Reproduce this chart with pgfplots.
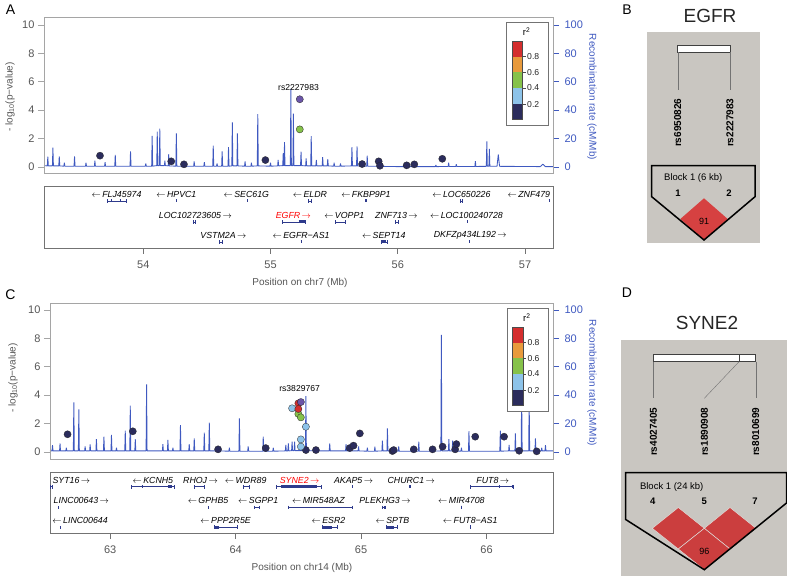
\documentclass[border=0pt]{standalone}
\usepackage{pgfplots}
\pgfplotsset{compat=1.18}
\usepackage{fontspec}
\setmainfont{Liberation Sans}

\definecolor{recblue}{HTML}{3F59C0}
\definecolor{axgray}{HTML}{A5A5A5}
\definecolor{ticktext}{HTML}{555555}
\definecolor{ldnavy}{HTML}{2B2C5C}
\definecolor{ldlblue}{HTML}{8DC3E9}
\definecolor{ldgreen}{HTML}{86C24A}
\definecolor{ldorange}{HTML}{E89A3C}
\definecolor{ldred}{HTML}{D42E2E}
\definecolor{ldpurple}{HTML}{6B55A8}
\definecolor{hvgray}{HTML}{C9C6C1}
\definecolor{hvred}{HTML}{D64141}
\definecolor{genenavy}{HTML}{2E3A8C}

\newcommand{\fs}[1]{\fontsize{#1}{#1}\selectfont}
\newcommand{\genefont}{\fs{8.8}\itshape}

% gene: start, end, bar y
\newcommand{\gene}[3]{\addplot[genenavy, line width=0.6pt, mark=|, mark size=1.8pt,
  mark options={line width=0.5pt}] coordinates {(#1,#3) (#2,#3)};}
\newcommand{\exon}[3]{\addplot[genenavy, line width=3pt] coordinates {(#1,#3) (#2,#3)};}
\newcommand{\glabel}[4][black]{\node[font=\genefont, text=#1, inner sep=0pt] at (axis cs:#2,#3) {#4};}
\newcommand{\la}{$\leftarrow$\,}
\newcommand{\ra}{\,$\rightarrow$}

% r^2 colour key, in relative axis coordinates
\newcommand{\rtick}[2]{\draw[black!70, line width=0.4pt] (rel axis cs:0.940,#1) -- (rel axis cs:0.947,#1)
      node[right, inner sep=1pt, font=\fs{8.6}, text=black!85] {#2};}
\newcommand{\rkey}{%
  \draw[black!55, fill=white, line width=0.6pt] (rel axis cs:0.909,0.306) rectangle (rel axis cs:0.991,0.963);
  \fill[ldred] (rel axis cs:0.919,0.848) rectangle (rel axis cs:0.940,0.746);
  \fill[ldorange] (rel axis cs:0.919,0.746) rectangle (rel axis cs:0.940,0.647);
  \fill[ldgreen] (rel axis cs:0.919,0.647) rectangle (rel axis cs:0.940,0.545);
  \fill[ldlblue] (rel axis cs:0.919,0.545) rectangle (rel axis cs:0.940,0.442);
  \fill[ldnavy] (rel axis cs:0.919,0.442) rectangle (rel axis cs:0.940,0.344);
  \draw[black!70, line width=0.4pt] (rel axis cs:0.919,0.848) rectangle (rel axis cs:0.940,0.344);
  \rtick{0.746}{0.8}
  \rtick{0.647}{0.6}
  \rtick{0.545}{0.4}
  \rtick{0.442}{0.2}
  \node[font=\fs{9.5}] at (rel axis cs:0.948,0.906) {r\textsuperscript{2}};
}

\pgfplotsset{
  lz/.style={scale only axis, anchor=south west, clip=false, tick align=outside,
    major tick length=6pt, /pgf/number format/assume math mode=true},
  rec/.style={lz, axis x line=none, axis y line*=right,
    axis line style={recblue, line width=0.8pt}, ytick={0,20,...,100},
    ytick style={recblue, line width=0.8pt},
    yticklabel style={text=recblue, font=\fs{11}, xshift=2pt}},
  pv/.style={lz, axis line style={axgray, line width=0.8pt}, xtick=\empty,
    ytick={0,2,...,10}, ytick pos=left, ytick style={axgray, line width=0.8pt},
    yticklabel style={text=ticktext, font=\fs{11}}},
  gt/.style={lz, axis line style={black!55, line width=0.8pt}, ytick=\empty,
    xtick pos=bottom, xtick style={black!55, line width=0.8pt},
    xticklabel style={text=ticktext, font=\fs{11}, yshift=-3pt}, ymin=0, ymax=62},
  snp/.style={only marks, mark=*, mark size=3.6pt,
    mark options={fill=#1, draw=black!85, line width=0.3pt}},
}

\begin{document}
\begin{tikzpicture}[x=1pt,y=1pt]
\path[use as bounding box] (0,0) rectangle (787,576);

%================ A : recombination rate (cM/Mb) ================
\begin{axis}[rec, at={(44pt,403pt)}, width=509pt, height=156pt,
  xmin=53.22, xmax=57.22, ymin=-4.2, ymax=105.6]
\addplot[recblue, line width=0.85pt, line join=bevel] coordinates {
(53.22,1.0)
(53.246,0.8) (53.25,7.3) (53.254,0.8)
(53.286,0.8) (53.29,13.6) (53.294,0.8)
(53.336,0.8) (53.34,7.5) (53.344,0.8)
(53.376,0.6) (53.38,3.0) (53.384,0.6)
(53.456,0.6) (53.46,7.5) (53.464,0.6)
(53.546,0.6) (53.55,3.0) (53.554,0.6)
(53.616,0.6) (53.62,4.4) (53.624,0.6)
(53.696,0.6) (53.70,3.5) (53.704,0.6)
(53.776,0.6) (53.78,8.6) (53.784,0.6)
(53.896,0.6) (53.90,11.0) (53.904,0.6)
(54.016,0.6) (54.02,2.5) (54.024,0.6)
(54.066,0.6) (54.07,22.0) (54.074,0.6)
(54.106,1.0) (54.11,25.0) (54.114,1.0)
(54.126,1.0) (54.13,27.0) (54.134,1.0)
(54.166,1.0) (54.17,4.4) (54.174,1.0)
(54.196,0.8) (54.20,9.0) (54.204,0.8)
(54.256,0.6) (54.26,23.7) (54.264,0.6)
(54.326,0.6) (54.33,3.0) (54.334,0.6)
(54.396,0.6) (54.40,4.0) (54.404,0.6)
(54.476,0.6) (54.48,3.5) (54.484,0.6)
(54.546,0.6) (54.55,15.0) (54.554,0.6)
(54.576,0.6) (54.58,2.5) (54.584,0.6)
(54.616,0.6) (54.62,11.0) (54.624,0.6)
(54.666,0.6) (54.67,14.0) (54.674,0.6)
(54.696,0.8) (54.70,31.5) (54.704,0.8)
(54.736,0.8) (54.74,23.6) (54.744,0.8)
(54.796,0.6) (54.80,4.0) (54.804,0.6)
(54.846,0.6) (54.85,3.0) (54.854,0.6)
(54.896,0.8) (54.90,37.3) (54.904,0.8)
(54.996,0.6) (55.00,3.0) (55.004,0.6)
(55.056,0.8) (55.06,5.0) (55.064,0.8)
(55.096,1.0) (55.10,9.8) (55.104,1.0)
(55.107,1.0) (55.11,17.6) (55.114,1.0)
(55.156,1.0) (55.16,55.0) (55.164,1.0)
(55.176,1.0) (55.18,37.6) (55.184,1.0)
(55.236,1.0) (55.24,10.8) (55.244,1.0)
(55.276,0.8) (55.28,6.0) (55.284,0.8)
(55.316,0.8) (55.32,21.8) (55.324,0.8)
(55.356,0.8) (55.36,5.0) (55.364,0.8)
(55.406,0.8) (55.41,7.0) (55.414,0.8)
(55.446,0.8) (55.45,5.5) (55.454,0.8)
(55.496,0.6) (55.50,3.0) (55.504,0.6)
(55.546,0.6) (55.55,2.5) (55.554,0.6)
(55.636,0.8) (55.64,14.0) (55.644,0.8)
(55.676,0.8) (55.68,14.6) (55.684,0.8)
(55.756,0.6) (55.76,8.0) (55.764,0.6)
(56.00,0.3)
(56.296,0.3) (56.30,1.5) (56.304,0.3)
(56.396,0.4) (56.40,3.0) (56.404,0.4)
(56.456,0.4) (56.46,2.0) (56.464,0.4)
(56.606,0.4) (56.61,4.2) (56.614,0.4)
(56.696,0.5) (56.70,18.0) (56.704,0.5)
(56.716,0.5) (56.72,12.7) (56.724,0.5)
(56.78,0.5) (56.79,8.8) (56.80,0.5)
(57.12,0.3) (57.14,2.0) (57.16,0.3)
(57.22,0.3)};
\end{axis}

%================ A : association ================
\begin{axis}[pv, at={(44pt,403pt)}, width=509pt, height=156pt,
  xmin=53.22, xmax=57.22, ymin=-0.42, ymax=10.56]
\addplot[snp=ldnavy] coordinates {
 (53.66,0.8) (54.22,0.4) (54.32,0.19) (54.96,0.49) (55.72,0.21) (55.85,0.4)
 (55.86,0.09) (56.07,0.12) (56.13,0.19) (56.35,0.58)};
\addplot[snp=ldgreen] coordinates {(55.23,2.65)};
\addplot[snp=ldpurple] coordinates {(55.23,4.77)};
\node[font=\fs{8.6}] at (axis cs:55.22,5.62) {rs2227983};
\rkey
\end{axis}

%================ A : genes ================
\begin{axis}[gt, at={(44pt,328pt)}, width=509pt, height=62pt,
  xmin=53.22, xmax=57.22, xtick={54,55,56,57}]
\gene{53.72}{53.87}{47} \exon{53.745}{53.752}{47} \exon{53.815}{53.822}{47}
\glabel{53.79}{53.7}{\la FLJ45974}
\exon{54.258}{54.263}{47} \glabel{54.26}{53.7}{\la HPVC1}
\exon{54.816}{54.824}{47} \glabel{54.81}{53.7}{\la SEC61G}
\gene{55.30}{55.32}{47} \glabel{55.31}{53.7}{\la ELDR}
\exon{55.745}{55.757}{47} \glabel{55.75}{53.7}{\la FKBP9P1}
\gene{56.49}{56.51}{47} \glabel{56.50}{53.7}{\la LOC650226}
\exon{57.186}{57.196}{47} \glabel{57.03}{53.7}{\la ZNF479}
\gene{54.39}{54.41}{26} \glabel{54.41}{33}{LOC102723605\ra}
\gene{55.09}{55.27}{26} \exon{55.22}{55.27}{26} \glabel[red]{55.18}{33}{EGFR\ra}
\gene{55.51}{55.59}{26} \glabel{55.58}{33}{\la VOPP1}
\gene{55.98}{56.00}{26} \glabel{55.99}{33}{ZNF713\ra}
\exon{56.548}{56.552}{26} \glabel{56.54}{33}{\la LOC100240728}
\gene{54.60}{54.62}{6} \glabel{54.63}{13}{VSTM2A\ra}
\exon{55.237}{55.245}{6} \glabel{55.24}{13}{\la EGFR−AS1}
\gene{55.87}{55.92}{6} \exon{55.875}{55.91}{6} \glabel{55.89}{13}{\la SEPT14}
\exon{56.558}{56.562}{6} \glabel{56.57}{13}{DKFZp434L192\ra}
\end{axis}

%================ C : recombination rate (cM/Mb) ================
\begin{axis}[rec, at={(50pt,117pt)}, width=503pt, height=156pt,
  xmin=62.52, xmax=66.53, ymin=-4.9, ymax=104.9]
\addplot[recblue, line width=0.85pt, line join=bevel] coordinates {
(62.52,1.0)
(62.536,0.8) (62.54,4.9) (62.544,0.8)
(62.596,0.8) (62.60,6.0) (62.604,0.8)
(62.646,0.8) (62.65,3.0) (62.654,0.8)
(62.706,0.8) (62.71,35.0) (62.714,0.8)
(62.746,0.8) (62.75,30.0) (62.754,0.8)
(62.796,0.8) (62.80,4.0) (62.804,0.8)
(62.836,0.8) (62.84,5.4) (62.844,0.8)
(62.886,0.8) (62.89,9.0) (62.894,0.8)
(62.946,0.8) (62.95,10.8) (62.954,0.8)
(63.006,0.8) (63.01,12.0) (63.014,0.8)
(63.046,0.8) (63.05,3.0) (63.054,0.8)
(63.116,0.8) (63.12,15.0) (63.124,0.8)
(63.156,0.8) (63.16,32.6) (63.164,0.8)
(63.196,0.8) (63.20,9.0) (63.204,0.8)
(63.286,0.8) (63.29,47.7) (63.294,0.8)
(63.416,0.8) (63.42,5.6) (63.424,0.8)
(63.456,0.8) (63.46,8.5) (63.464,0.8)
(63.496,0.8) (63.50,3.0) (63.504,0.8)
(63.556,0.8) (63.56,19.0) (63.564,0.8)
(63.626,0.8) (63.63,5.6) (63.634,0.8)
(63.666,0.8) (63.67,9.6) (63.674,0.8)
(63.746,0.8) (63.75,13.6) (63.754,0.8)
(63.786,0.8) (63.79,20.7) (63.794,0.8)
(63.856,0.8) (63.86,4.0) (63.864,0.8)
(63.946,0.6) (63.95,3.0) (63.954,0.6)
(64.026,0.6) (64.03,23.7) (64.034,0.6)
(64.096,0.6) (64.10,4.0) (64.104,0.6)
(64.216,0.6) (64.22,10.8) (64.224,0.6)
(64.296,0.6) (64.30,3.0) (64.304,0.6)
(64.396,0.8) (64.40,5.0) (64.404,0.8)
(64.416,0.8) (64.42,6.0) (64.424,0.8)
(64.446,1.0) (64.45,7.3) (64.454,1.0)
(64.466,1.0) (64.47,7.3) (64.474,1.0)
(64.556,1.0) (64.56,39.4) (64.564,1.0)
(64.646,0.8) (64.65,3.0) (64.654,0.8)
(64.746,0.8) (64.75,6.0) (64.754,0.8)
(64.876,0.8) (64.88,5.6) (64.884,0.8)
(64.916,0.8) (64.92,6.6) (64.924,0.8)
(64.976,0.8) (64.98,4.0) (64.984,0.8)
(65.046,0.6) (65.05,3.0) (65.054,0.6)
(65.106,0.6) (65.11,3.8) (65.114,0.6)
(65.166,0.8) (65.17,8.0) (65.174,0.8)
(65.206,0.8) (65.21,16.7) (65.214,0.8)
(65.296,0.6) (65.30,4.0) (65.304,0.6)
(65.396,0.6) (65.40,3.0) (65.404,0.6)
(65.456,0.6) (65.46,7.3) (65.464,0.6)
(65.546,0.6) (65.55,3.0) (65.554,0.6)
(65.636,0.8) (65.64,82.4) (65.644,0.8)
(65.696,0.8) (65.70,9.0) (65.704,0.8)
(65.726,0.8) (65.73,8.0) (65.734,0.8)
(65.796,0.6) (65.80,3.0) (65.804,0.6)
(65.856,0.6) (65.86,14.8) (65.864,0.6)
(66.106,0.6) (66.11,15.0) (66.114,0.6)
(66.176,0.8) (66.18,5.0) (66.184,0.8)
(66.226,0.8) (66.23,13.1) (66.234,0.8)
(66.276,0.8) (66.28,41.3) (66.284,0.8)
(66.336,0.8) (66.34,36.6) (66.344,0.8)
(66.386,0.8) (66.39,9.6) (66.394,0.8)
(66.436,0.8) (66.44,3.0) (66.444,0.8)
(66.466,0.8) (66.47,4.9) (66.474,0.8)
(66.53,0.8)};
\end{axis}

%================ C : association ================
\begin{axis}[pv, at={(50pt,117pt)}, width=503pt, height=156pt,
  xmin=62.52, xmax=66.53, ymin=-0.49, ymax=10.49]
\addplot[snp=ldnavy] coordinates {
 (62.66,1.25) (63.18,1.46) (63.86,0.19) (64.24,0.28) (64.56,0.14) (64.64,0.14)
 (64.91,0.28) (64.94,0.45) (64.99,1.31) (65.25,0.07) (65.26,0.14) (65.42,0.19)
 (65.57,0.19) (65.65,0.38) (65.75,0.19) (65.76,0.56) (65.91,1.08) (66.14,1.08)
 (66.26,0.09) (66.40,0.05)};
\addplot[snp=ldlblue] coordinates {(64.45,3.08) (64.56,1.78) (64.52,0.89) (64.52,0.38)};
\addplot[snp=ldgreen] coordinates {(64.50,2.68) (64.52,2.44)};
\addplot[snp=ldred] coordinates {(64.50,3.43) (64.50,3.03)};
\addplot[snp=ldpurple] coordinates {(64.52,3.52)};
\node[font=\fs{8.6}] at (axis cs:64.51,4.49) {rs3829767};
\rkey
\end{axis}

%================ C : genes ================
\begin{axis}[gt, at={(50pt,43pt)}, width=503pt, height=61pt,
  xmin=62.52, xmax=66.53, xtick={63,64,65,66}]
\gene{62.525}{62.54}{47} \glabel{62.69}{53.7}{SYT16\ra}
\gene{63.17}{63.51}{47} \exon{63.25}{63.26}{47} \exon{63.46}{63.49}{47}
\glabel{63.34}{53.7}{\la KCNH5}
\gene{63.67}{63.75}{47} \glabel{63.72}{53.7}{RHOJ\ra}
\gene{64.06}{64.11}{47} \glabel{64.08}{53.7}{\la WDR89}
\gene{64.32}{64.68}{47} \exon{64.36}{64.65}{47} \glabel[red]{64.51}{53.7}{SYNE2\ra}
\exon{64.928}{64.934}{47} \glabel{64.94}{53.7}{AKAP5\ra}
\exon{65.385}{65.395}{47} \glabel{65.40}{53.7}{CHURC1\ra}
\gene{65.87}{66.21}{47} \exon{66.10}{66.11}{47} \exon{66.20}{66.21}{47}
\glabel{66.05}{53.7}{FUT8\ra}
\exon{62.587}{62.593}{26} \glabel{62.77}{33}{LINC00643\ra}
\exon{63.778}{63.782}{26} \glabel{63.78}{33}{\la GPHB5}
\gene{64.15}{64.19}{26} \glabel{64.18}{33}{\la SGPP1}
\gene{64.42}{64.93}{26} \glabel{64.66}{33}{\la MIR548AZ}
\gene{65.17}{65.19}{26} \exon{65.18}{65.19}{26} \glabel{65.19}{33}{PLEKHG3\ra}
\gene{65.798}{65.802}{26} \glabel{65.80}{33}{\la MIR4708}
\exon{62.598}{62.602}{6} \glabel{62.76}{12.5}{\la LINC00644}
\gene{63.83}{64.01}{6} \exon{63.83}{63.87}{6} \glabel{63.92}{12.5}{\la PPP2R5E}
\gene{64.69}{64.81}{6} \exon{64.69}{64.77}{6} \glabel{64.74}{12.5}{\la ESR2}
\gene{65.20}{65.29}{6} \exon{65.21}{65.26}{6} \glabel{65.25}{12.5}{\la SPTB}
\gene{65.868}{65.872}{6} \glabel{65.87}{12.5}{\la FUT8−AS1}
\end{axis}

%================ B and D : LD blocks ================
\begin{axis}[scale only axis, anchor=south west, at={(585pt,0pt)}, width=202pt,
  height=576pt, xmin=585, xmax=787, ymin=0, ymax=576, y dir=reverse,
  hide axis, clip=false]
% B
\addplot[fill=hvgray, draw=none] coordinates {(647,32) (760,32) (760,243) (647,243)} -- cycle;
\addplot[fill=white, draw=black!75, line width=0.6pt] coordinates {(677.7,45.7) (730,45.7) (730,52.3) (677.7,52.3)} -- cycle;
\addplot[black!55, line width=0.4pt] coordinates {(677.7,52.3) (677.7,90)};
\addplot[black!55, line width=0.4pt] coordinates {(730,52.3) (730,90)};
\addplot[fill=hvred, draw=none] coordinates {(704,198.3) (727.7,219) (704,239.7) (680.3,219)} -- cycle;
\addplot[black, line width=1.5pt] coordinates {(651.7,165.7) (755,165.7) (755,196.7) (704,240) (651.7,196.7)} -- cycle;
\node[rotate=90, anchor=east, font=\fs{10}\bfseries] at (axis cs:677.7,95) {rs6950826};
\node[rotate=90, anchor=east, font=\fs{10}\bfseries] at (axis cs:730,95) {rs2227983};
\node[font=\fs{9.5}] at (axis cs:693.2,178.3) {Block 1 (6 kb)};
\node[font=\fs{9.5}\bfseries] at (axis cs:678,193) {1};
\node[font=\fs{9.5}\bfseries] at (axis cs:729,193) {2};
\node[font=\fs{9}] at (axis cs:704,221) {91};
\node[font=\fs{19}, text=black!85] at (axis cs:710,16) {EGFR};
% D
\addplot[fill=hvgray, draw=none] coordinates {(621,340) (787,340) (787,576) (621,576)} -- cycle;
\addplot[fill=white, draw=black!75, line width=0.6pt] coordinates {(653.3,354.3) (755.7,354.3) (755.7,361.7) (653.3,361.7)} -- cycle;
\addplot[black!75, line width=0.6pt] coordinates {(739,354.3) (739,361.7)};
\addplot[black!55, line width=0.4pt] coordinates {(653.3,361.7) (653.3,398.3)};
\addplot[black!55, line width=0.4pt] coordinates {(739,361.7) (704.3,398.3)};
\addplot[black!55, line width=0.4pt] coordinates {(755.7,361.7) (755.7,398.3)};
\addplot[fill=hvred!95!black, draw=hvgray!60!white, line width=0.5pt] coordinates {(678.3,507.5) (704.3,528.3) (678.3,549) (652.3,528.3)} -- cycle;
\addplot[fill=hvred!95!black, draw=hvgray!60!white, line width=0.5pt] coordinates {(730,507.5) (756,528.3) (730,549) (704.3,528.3)} -- cycle;
\addplot[fill=hvred!95!black, draw=hvgray!60!white, line width=0.5pt] coordinates {(704.3,528.3) (730,549) (704.3,569.7) (678.3,549)} -- cycle;
\addplot[black, line width=1.5pt] coordinates {(625.7,472.7) (786.5,472.7) (786.5,503) (704.3,569.7) (625.7,519.5)} -- cycle;
\node[rotate=90, anchor=east, font=\fs{10}\bfseries] at (axis cs:653.3,404) {rs4027405};
\node[rotate=90, anchor=east, font=\fs{10}\bfseries] at (axis cs:704.3,404) {rs1890908};
\node[rotate=90, anchor=east, font=\fs{10}\bfseries] at (axis cs:755.7,404) {rs8010699};
\node[font=\fs{9.5}] at (axis cs:671.7,486.7) {Block 1 (24 kb)};
\node[font=\fs{9.5}\bfseries] at (axis cs:652.7,501.7) {4};
\node[font=\fs{9.5}\bfseries] at (axis cs:704.3,501.7) {5};
\node[font=\fs{9.5}\bfseries] at (axis cs:755,501.7) {7};
\node[font=\fs{9}] at (axis cs:704.3,551) {96};
\node[font=\fs{19}, text=black!85] at (axis cs:707,323.3) {SYNE2};
\end{axis}

%================ panel letters and axis titles ================
\node[font=\fs{14}] at (10.5,566) {A};
\node[font=\fs{14}] at (10.5,281) {C};
\node[font=\fs{14}] at (627,566) {B};
\node[font=\fs{14}] at (627,283) {D};
\node[rotate=90, font=\fs{10}, text=ticktext] at (10,479) {- log\textsubscript{10}(p−value)};
\node[rotate=90, font=\fs{10}, text=ticktext] at (13,198) {- log\textsubscript{10}(p−value)};
\node[rotate=-90, font=\fs{10}, text=recblue] at (592,479) {Recombination rate (cM/Mb)};
\node[rotate=-90, font=\fs{10}, text=recblue] at (592,193) {Recombination rate (cM/Mb)};
\node[font=\fs{10}, text=ticktext] at (300,293) {Position on chr7 (Mb)};
\node[font=\fs{10}, text=ticktext] at (302,7.7) {Position on chr14 (Mb)};
\end{tikzpicture}
\end{document}
